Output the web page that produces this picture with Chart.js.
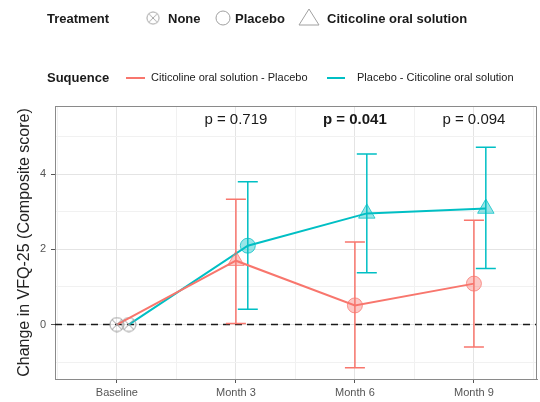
<!DOCTYPE html>
<html>
<head>
<meta charset="utf-8">
<script src="https://cdn.jsdelivr.net/npm/chart.js@4"></script>
<style>
  html, body { margin: 0; padding: 0; background: #fff; }
</style>
</head>
<body>
<canvas id="chart" width="540" height="402"></canvas>
<script>
// data
var categories = ['Baseline', 'Month 3', 'Month 6', 'Month 9'];

var citPlaMean = [0, 1.70, 0.51, 1.09];
var citPlaLow  = [null, 0.03, -1.15, -0.60];
var citPlaHigh = [null, 3.34, 2.20, 2.78];
var citPlaTreatment = ['None', 'Citicoline', 'Placebo', 'Placebo'];

var plaCitMean = [0, 2.10, 2.96, 3.09];
var plaCitLow  = [null, 0.41, 1.38, 1.49];
var plaCitHigh = [null, 3.80, 4.54, 4.72];
var plaCitTreatment = ['None', 'Placebo', 'Citicoline', 'Citicoline'];

var pLabels = ['', 'p = 0.719', 'p = 0.041', 'p = 0.094'];
var pBold = [false, false, true, false];

var RED = '#F8766D';
var TEAL = '#00BFC4';
var FONT = '"Liberation Sans", Arial, sans-serif';

function rgba(hex, a) {
    var n = parseInt(hex.slice(1), 16);
    return 'rgba(' + (n >> 16) + ',' + ((n >> 8) & 255) + ',' + (n & 255) + ',' + a + ')';
}

// circle with an X inside, used for the "None" treatment
function crossCircle(r, color) {
    var c = document.createElement('canvas');
    c.width = c.height = r * 2 + 2;
    var g = c.getContext('2d');
    var m = r + 1;
    g.strokeStyle = color;
    g.lineWidth = 1;
    g.beginPath();
    g.arc(m, m, r, 0, Math.PI * 2);
    g.stroke();
    var d = r * Math.SQRT1_2;
    g.beginPath();
    g.moveTo(m - d, m - d); g.lineTo(m + d, m + d);
    g.moveTo(m + d, m - d); g.lineTo(m - d, m + d);
    g.stroke();
    return c;
}
var noneIcon = crossCircle(7, '#9a9a9a');

function styleFor(t) {
    if (t === 'None') return noneIcon;
    if (t === 'Citicoline') return 'triangle';
    return 'circle';
}

function makeSeries(label, mean, treat, color, shift) {
    return {
        label: label,
        data: mean.map(function(v, i) { return { x: i + shift, y: v }; }),
        borderColor: color,
        borderWidth: 2,
        pointStyle: function(ctx) { return styleFor(treat[ctx.dataIndex]); },
        pointRadius: function(ctx) { return treat[ctx.dataIndex] === 'Citicoline' ? 9.5 : 7.5; },
        pointBackgroundColor: rgba(color, 0.4),
        pointBorderColor: rgba(color, 0.75),
        pointBorderWidth: 1,
        tension: 0
    };
}

var errorBars = {
    id: 'errorBars',
    beforeDatasetsDraw: function(chart) {
        var ctx = chart.ctx, xs = chart.scales.x, ys = chart.scales.y;
        var area = chart.chartArea;
        ctx.save();
        // dashed reference line at zero
        ctx.strokeStyle = '#1a1a1a';
        ctx.lineWidth = 1.5;
        ctx.setLineDash([7, 5]);
        ctx.beginPath();
        ctx.moveTo(area.left, ys.getPixelForValue(0));
        ctx.lineTo(area.right, ys.getPixelForValue(0));
        ctx.stroke();
        ctx.setLineDash([]);

        var sets = [[citPlaLow, citPlaHigh, RED, 0], [plaCitLow, plaCitHigh, TEAL, 0.1]];
        sets.forEach(function(s) {
            ctx.strokeStyle = s[2];
            ctx.lineWidth = 1.5;
            for (var i = 0; i < categories.length; i++) {
                if (s[0][i] === null) continue;
                var x = xs.getPixelForValue(i + s[3]);
                var y1 = ys.getPixelForValue(s[0][i]);
                var y2 = ys.getPixelForValue(s[1][i]);
                ctx.beginPath();
                ctx.moveTo(x, y1); ctx.lineTo(x, y2);
                ctx.moveTo(x - 10, y1); ctx.lineTo(x + 10, y1);
                ctx.moveTo(x - 10, y2); ctx.lineTo(x + 10, y2);
                ctx.stroke();
            }
        });
        ctx.restore();
    },
    afterDraw: function(chart) {
        var ctx = chart.ctx, xs = chart.scales.x;
        var area = chart.chartArea;
        ctx.save();
        // top and right side of the panel frame
        ctx.strokeStyle = '#8a8a8a';
        ctx.lineWidth = 1;
        ctx.beginPath();
        ctx.moveTo(area.left, area.top + 0.5);
        ctx.lineTo(area.right - 0.5, area.top + 0.5);
        ctx.lineTo(area.right - 0.5, area.bottom);
        ctx.stroke();

        // p values
        ctx.fillStyle = '#1a1a1a';
        ctx.textAlign = 'center';
        ctx.textBaseline = 'middle';
        for (var i = 0; i < pLabels.length; i++) {
            if (!pLabels[i]) continue;
            ctx.font = (pBold[i] ? 'bold ' : '') + '15px ' + FONT;
            ctx.fillText(pLabels[i], xs.getPixelForValue(i), area.top + 14);
        }

        // legends
        ctx.textAlign = 'left';
        ctx.font = 'bold 13px ' + FONT;
        ctx.fillText('Treatment', 47, 19);
        ctx.fillText('Suquence', 47, 78);
        ctx.drawImage(noneIcon, 153 - 7, 18 - 7, 14, 14);
        ctx.fillText('None', 168, 19);
        ctx.strokeStyle = '#a0a0a0';
        ctx.beginPath();
        ctx.arc(223, 18, 7, 0, Math.PI * 2);
        ctx.stroke();
        ctx.fillText('Placebo', 235, 19);
        ctx.beginPath();
        ctx.moveTo(309, 9); ctx.lineTo(319, 25); ctx.lineTo(299, 25); ctx.closePath();
        ctx.stroke();
        ctx.fillText('Citicoline oral solution', 327, 19);

        ctx.font = '11px ' + FONT;
        ctx.lineWidth = 2;
        ctx.strokeStyle = RED;
        ctx.beginPath(); ctx.moveTo(126, 78); ctx.lineTo(145, 78); ctx.stroke();
        ctx.fillText('Citicoline oral solution - Placebo', 151, 78);
        ctx.strokeStyle = TEAL;
        ctx.beginPath(); ctx.moveTo(327, 78); ctx.lineTo(345, 78); ctx.stroke();
        ctx.fillText('Placebo - Citicoline oral solution', 357, 78);
        ctx.restore();
    }
};

function gridColor(ctx) {
    return Number.isInteger(ctx.tick.value) ? '#e4e4e4' : '#f1f1f1';
}

new Chart(document.getElementById('chart'), {
    type: 'line',
    data: {
        datasets: [
            makeSeries('Citicoline oral solution - Placebo', citPlaMean, citPlaTreatment, RED, 0),
            makeSeries('Placebo - Citicoline oral solution', plaCitMean, plaCitTreatment, TEAL, 0.1)
        ]
    },
    options: {
        responsive: false,
        animation: false,
        layout: { autoPadding: false, padding: { top: 106, right: 3, left: 0, bottom: 0 } },
        plugins: { legend: { display: false }, tooltip: { enabled: false } },
        scales: {
            x: {
                type: 'linear',
                min: -0.52,
                max: 3.53,
                afterBuildTicks: function(s) {
                    s.ticks = [-0.5, 0, 0.5, 1, 1.5, 2, 2.5, 3, 3.5].map(function(v) { return { value: v }; });
                },
                afterFit: function(s) { s.height = 23; s.paddingLeft = 0; s.paddingRight = 0; },
                ticks: {
                    autoSkip: false,
                    maxRotation: 0,
                    padding: 3,
                    color: '#555',
                    font: { family: FONT, size: 11 },
                    callback: function(v) { return Number.isInteger(v) ? categories[v] : ''; }
                },
                grid: {
                    color: gridColor,
                    tickLength: 4,
                    tickColor: function(ctx) { return Number.isInteger(ctx.tick.value) ? '#555' : 'rgba(0,0,0,0)'; }
                },
                border: { color: '#8a8a8a' }
            },
            y: {
                min: -1.45,
                max: 5.82,
                afterBuildTicks: function(s) {
                    s.ticks = [-1, 0, 1, 2, 3, 4, 5].map(function(v) { return { value: v }; });
                },
                afterFit: function(s) { s.width = 55; s.paddingTop = 0; s.paddingBottom = 0; },
                ticks: {
                    padding: 5,
                    color: '#555',
                    font: { family: FONT, size: 11 },
                    callback: function(v) { return v % 2 === 0 ? String(v) : ''; }
                },
                grid: {
                    color: function(ctx) { return ctx.tick.value % 2 === 0 ? '#e4e4e4' : '#f1f1f1'; },
                    tickLength: 4,
                    tickColor: function(ctx) { return ctx.tick.value % 2 === 0 ? '#555' : 'rgba(0,0,0,0)'; }
                },
                border: { color: '#8a8a8a' },
                title: {
                    display: true,
                    text: 'Change in VFQ-25 (Composite score)',
                    color: '#222',
                    font: { family: FONT, size: 16 },
                    padding: { top: 15, bottom: 0 }
                }
            }
        }
    },
    plugins: [errorBars]
});
</script>
</body>
</html>
